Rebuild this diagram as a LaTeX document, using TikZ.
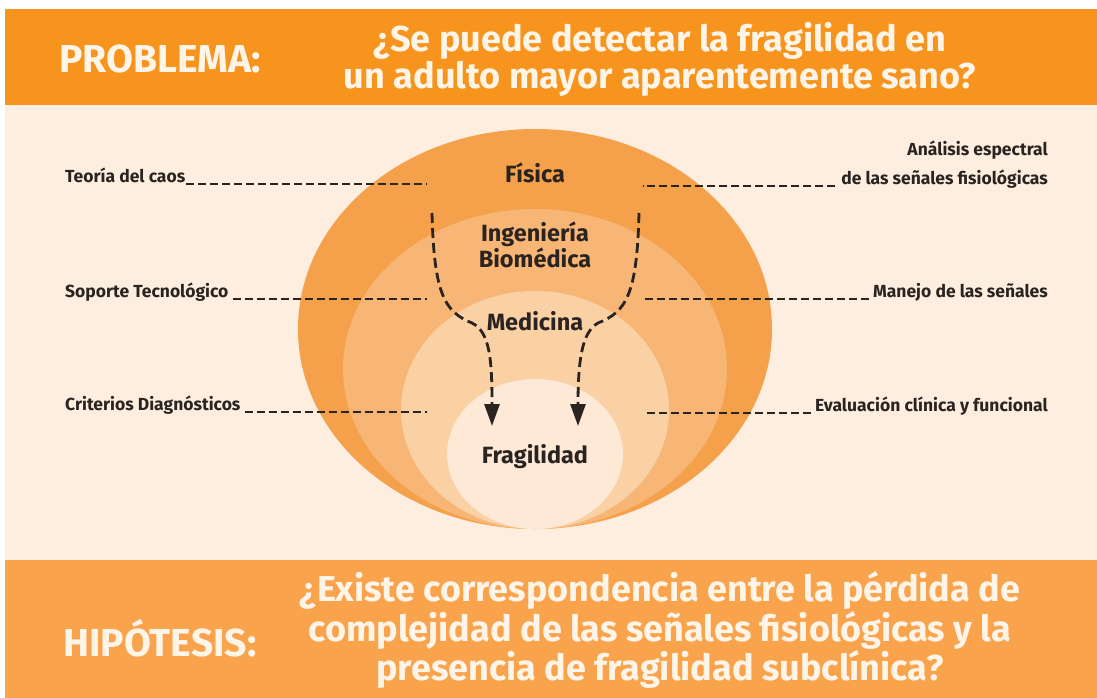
\documentclass[tikz,border=0pt]{standalone}
\usepackage{fontspec}
\setmainfont{Fira Sans}
\usepackage{xcolor}
\usetikzlibrary{arrows.meta,positioning}

\definecolor{bandtop}{HTML}{F7941D}
\definecolor{bandlow}{HTML}{F9A44C}
\definecolor{paper}{HTML}{FDEEE0}
\definecolor{ringa}{HTML}{F5A04A}
\definecolor{ringb}{HTML}{F8B676}
\definecolor{ringc}{HTML}{FAD0A5}
\definecolor{ringd}{HTML}{FDE9D6}
\definecolor{ink}{HTML}{2A2320}
\definecolor{cream}{HTML}{FFF4E8}

\begin{document}
\begin{tikzpicture}[x=1pt, y=-1pt,
        tag/.style={font=\bfseries\fontsize{17.5}{20}\selectfont, text=ink, inner sep=0pt},
        field/.style={font=\bfseries\fontsize{23.5}{26}\selectfont, text=ink, align=center, inner sep=0pt},
        headline/.style={font=\bfseries\fontsize{36}{37}\selectfont, text=cream, align=center, inner sep=0pt},
        caption/.style={font=\bfseries\fontsize{39}{40}\selectfont, text=cream, inner sep=0pt},
        guide/.style={ink, line width=2.4pt, dash pattern=on 8pt off 4pt},
        flow/.style={ink, line width=2.8pt, dash pattern=on 10pt off 5pt, -{Triangle[length=22pt,width=15pt]}}
    ]
        \useasboundingbox (0,0) rectangle (1097,698);

        % Bands
        \fill[bandtop] (5,9) rectangle (1097,105);
        \fill[paper] (5,105) rectangle (1097,560);
        \fill[bandlow] (5,560) rectangle (1097,698);

        % Nested fields, all touching at the bottom
        \fill[ringa] (535,329) ellipse [x radius=237pt, y radius=200pt];
        \fill[ringb] (535,369) ellipse [x radius=192pt, y radius=160pt];
        \fill[ringc] (535,410) ellipse [x radius=134pt, y radius=119pt];
        \fill[ringd] (535,454) ellipse [x radius=88pt, y radius=75pt];

        % Headings
        \node[caption] (problema) at (160,59) {PROBLEMA:};
        \node[headline] (pregunta) at (660,59) {¿Se puede detectar la fragilidad en\\un adulto mayor aparentemente sano?};
        \node[caption] (hipotesis) at (160,638) {HIPÓTESIS:};
        \node[headline] (respuesta) at (660,630) {¿Existe correspondencia entre la pérdida de\\complejidad de las señales fisiológicas y la\\presencia de fragilidad subclínica?};

        % Fields
        \node[field] (fisica) at (535,173) {Física};
        \node[field] (ingenieria) at (535,245) {Ingeniería\\Biomédica};
        \node[field] (medicina) at (535,321) {Medicina};
        \node[field] (fragilidad) at (535,457) {Fragilidad};

        % Left tags
        \node[tag, anchor=base west] (caos) at (65,182) {Teoría del caos};
        \node[tag, anchor=base west] (soporte) at (65,297) {Soporte Tecnológico};
        \node[tag, anchor=base west] (criterios) at (65,410) {Criterios Diagnósticos};
        \coordinate (caosend) at (427,184);
        \coordinate (soporteend) at (427,299);
        \coordinate (criteriosend) at (427,412);

        % Right tags
        \node[tag, anchor=base east] (senales) at (1048,184) {de las señales fisiológicas};
        \node[tag, anchor=base east] (analisis) at (1048,155) {Análisis espectral};
        \node[tag, anchor=base east] (manejo) at (1048,297) {Manejo de las señales};
        \node[tag, anchor=base east] (evaluacion) at (1048,411) {Evaluación clínica y funcional};
        \coordinate (senalesend) at (643,186);
        \coordinate (manejoend) at (643,299);
        \coordinate (evaluacionend) at (643,413);

        % Guides
        \draw[guide] ([xshift=1pt, yshift=-2pt]caos.base east) -- (caosend);
        \draw[guide] ([xshift=4pt, yshift=-2pt]soporte.base east) -- (soporteend);
        \draw[guide] ([xshift=4pt, yshift=-2pt]criterios.base east) -- (criteriosend);
        \draw[guide] ([xshift=-6pt, yshift=-2pt]senales.base west) -- (senalesend);
        \draw[guide] ([xshift=-4pt, yshift=-2pt]manejo.base west) -- (manejoend);
        \draw[guide] ([xshift=-4pt, yshift=-2pt]evaluacion.base west) -- (evaluacionend);

        % Flows towards Fragilidad
        \coordinate (leftin) at (432,213);
        \coordinate (leftout) at (492,426);
        \coordinate (rightin) at (639,213);
        \coordinate (rightout) at (578,426);
        \draw[flow] (leftin) .. controls (434,295) and (445,312) .. (472,323)
            .. controls (490,332) and (492,360) .. (leftout);
        \draw[flow] (rightin) .. controls (637,295) and (626,312) .. (598,323)
            .. controls (582,332) and (578,360) .. (rightout);
    \end{tikzpicture}
\end{document}
